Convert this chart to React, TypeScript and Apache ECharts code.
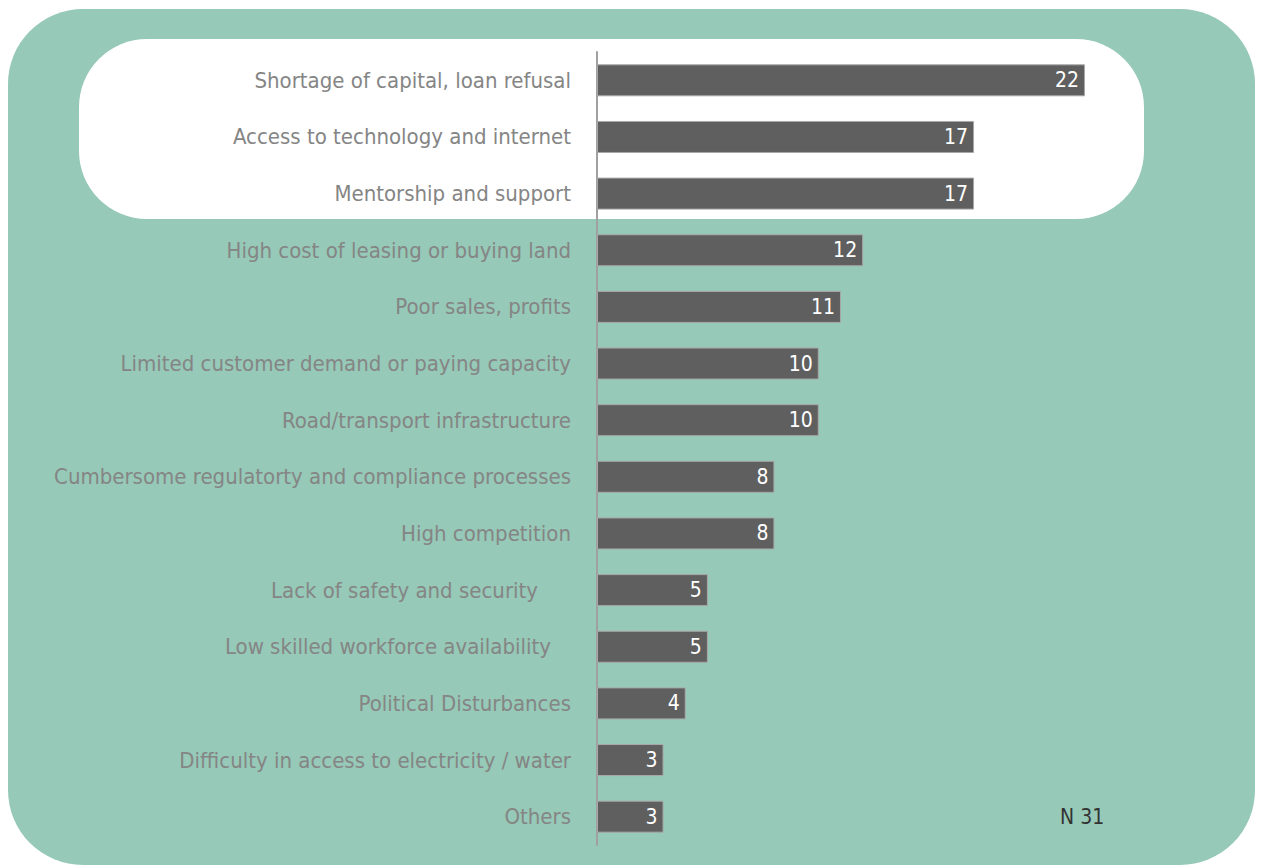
import React, { useEffect, useRef } from "react";
import * as echarts from "echarts";

const categories = [
  "Shortage of capital, loan refusal",
  "Access to technology and internet",
  "Mentorship and support",
  "High cost of leasing or buying land",
  "Poor sales, profits",
  "Limited customer demand or paying capacity",
  "Road/transport infrastructure",
  "Cumbersome regulatorty and compliance processes",
  "High competition",
  "Lack of safety and security",
  "Low skilled workforce availability",
  "Political Disturbances",
  "Difficulty in access to electricity / water",
  "Others",
];
const values = [22, 17, 17, 12, 11, 10, 10, 8, 8, 5, 5, 4, 3, 3];
// extra right padding on a few labels (trailing spaces in the original)
const labelPad: Record<string, number> = {
  "Lack of safety and security": 33,
  "Low skilled workforce availability": 20,
};
const noteText = "N 31";

const FONT = "'DejaVu Sans Condensed', 'Liberation Sans Narrow', sans-serif";
const LABEL_SIZE = 22;

export default function App() {
  const ref = useRef<HTMLDivElement>(null);
  useEffect(() => {
    if (!ref.current) return;
    const chart = echarts.init(ref.current, null, { renderer: "svg" });
    const rich: any = {
      n: { color: "#858585", fontSize: LABEL_SIZE, fontFamily: FONT },
    };
    const padKeys = Object.keys(labelPad);
    padKeys.forEach((k, i) => {
      rich["p" + i] = { color: "#858585", fontSize: LABEL_SIZE, fontFamily: FONT, padding: [0, labelPad[k], 0, 0] };
    });
    chart.setOption({
      animation: false,
      graphic: [
        {
          type: "rect",
          z: -10,
          shape: { x: 8, y: 9, width: 1247, height: 856, r: 75 },
          style: { fill: "#96c9b7" },
        },
        {
          type: "rect",
          z: -9,
          shape: { x: 79, y: 39, width: 1065, height: 180, r: 68 },
          style: { fill: "#ffffff" },
        },
        {
          type: "text",
          x: 1060,
          y: 817,
          style: { text: noteText, fill: "#333333", fontSize: 21, fontFamily: FONT, verticalAlign: "middle", align: "left" },
        },
      ],
      grid: { left: 597, top: 52, width: 554.5, height: 793, containLabel: false },
      xAxis: {
        type: "value",
        min: 0,
        max: 25,
        show: false,
      },
      yAxis: {
        type: "category",
        inverse: true,
        data: categories,
        axisLine: { show: true, lineStyle: { color: "#a0a0a0", width: 2 } },
        axisTick: { show: false },
        axisLabel: {
          margin: 26,
          formatter: (v: string) => {
            const idx = padKeys.indexOf(v);
            return idx >= 0 ? `{p${idx}|${v}}` : `{n|${v}}`;
          },
          rich,
        },
      },
      series: [
        {
          type: "bar",
          data: values,
          barWidth: 32,
          itemStyle: { color: "#5f5f5f", borderColor: "#a8a8a8", borderWidth: 1 },
          label: {
            show: true,
            position: "insideRight",
            distance: 6,
            color: "#ffffff",
            fontSize: 21,
            fontFamily: FONT,
          },
        },
      ],
    });
    return () => chart.dispose();
  }, []);
  return <div ref={ref} style={{ position: "absolute", left: 0, top: 0, width: 1261, height: 865 }} />;
}
